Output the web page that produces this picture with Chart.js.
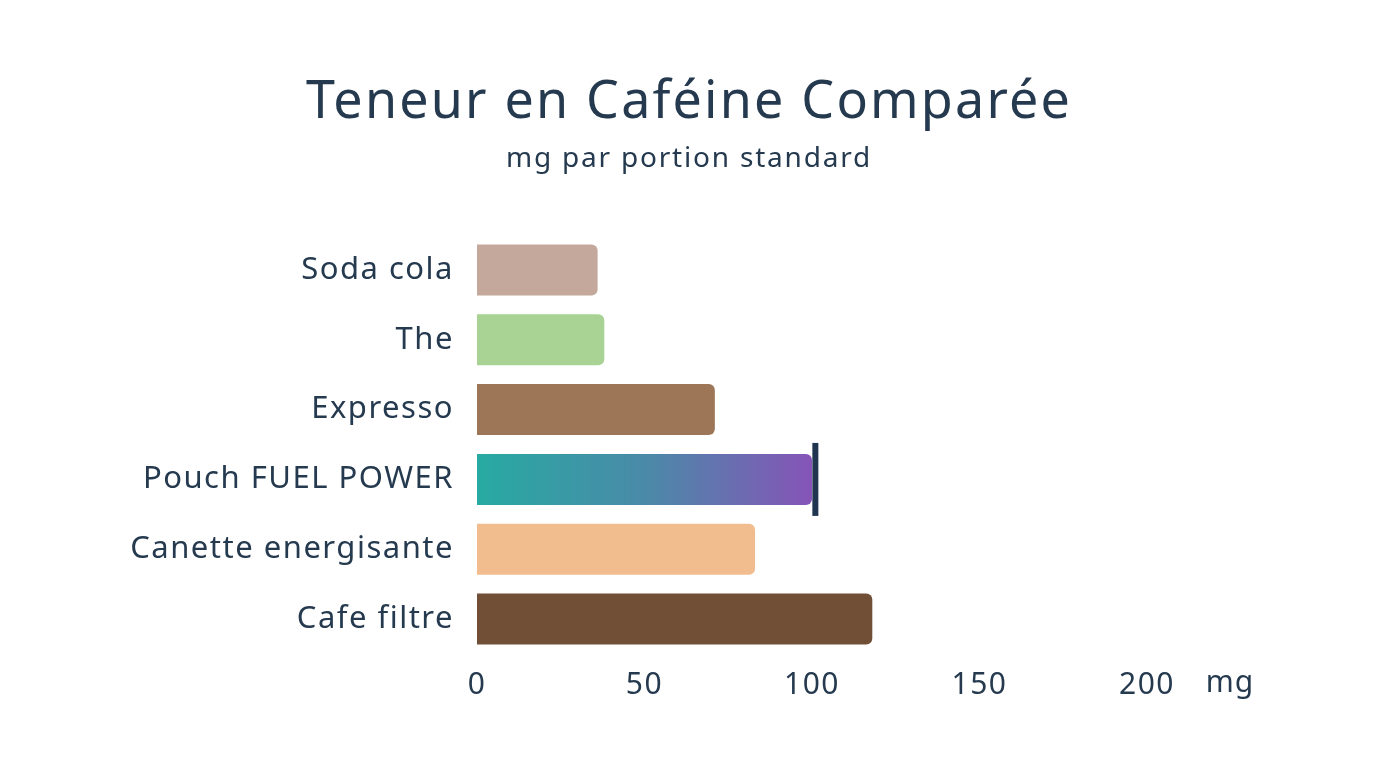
<!DOCTYPE html>
<html>
<head>
<meta charset="utf-8">
<script src="https://cdn.jsdelivr.net/npm/chart.js@4"></script>
<style>
  html, body { margin: 0; padding: 0; background: #ffffff; }
  #wrap { width: 1376px; height: 768px; }
</style>
</head>
<body>
<div id="wrap"><canvas id="cafChart"></canvas></div>
<script>
// donnees
const boissons = ['Soda cola', 'The', 'Expresso', 'Pouch FUEL POWER', 'Canette energisante', 'Cafe filtre'];
const cafeineMg = [36, 38, 71, 100, 83, 118];
const couleurs = ['#c4a89b', '#a8d395', '#9c7656', null, '#f1bd8f', '#714f37'];
const ticksX = [0, 50, 100, 150, 200];
const uniteX = 'mg';
const indexPouch = 3;
const marqueurPouch = 101;
const titre = 'Teneur en Caféine Comparée';
const sousTitre = 'mg par portion standard';

const texte = '#253a4f';
const police = "'Noto Sans', 'Open Sans', sans-serif";

// degrade teal -> violet pour la barre pouch
function couleurBarre(context) {
    const i = context.dataIndex;
    if (i !== indexPouch) return couleurs[i];
    const chart = context.chart;
    if (!chart.chartArea) return '#4f8fb0';
    const xs = chart.scales.x;
    const g = chart.ctx.createLinearGradient(xs.getPixelForValue(0), 0, xs.getPixelForValue(cafeineMg[i]), 0);
    g.addColorStop(0, '#27aaa2');
    g.addColorStop(0.5, '#4a8aa8');
    g.addColorStop(1, '#8654b8');
    return g;
}

// titres, trait vertical et unite "mg"
const extras = {
    id: 'extras',
    beforeDraw(chart) {
        chart.ctx.letterSpacing = '1.5px';
    },
    afterDatasetsDraw(chart) {
        const ctx = chart.ctx;
        const xs = chart.scales.x;
        const bar = chart.getDatasetMeta(0).data[indexPouch];
        const x = xs.getPixelForValue(marqueurPouch);
        const h = bar.height;
        ctx.save();
        ctx.fillStyle = '#1f3550';
        ctx.fillRect(x - 3, bar.y - h / 2 - 11, 6, h + 22);
        ctx.restore();
    },
    afterDraw(chart) {
        const ctx = chart.ctx;
        const xs = chart.scales.x;
        const cx = chart.width / 2;
        ctx.save();
        ctx.fillStyle = texte;
        ctx.textAlign = 'center';
        ctx.textBaseline = 'alphabetic';
        ctx.letterSpacing = '2.2px';
        ctx.font = '52px ' + police;
        ctx.fillText(titre, cx + 1, 118);
        ctx.letterSpacing = '1.8px';
        ctx.font = '28px ' + police;
        ctx.fillText(sousTitre, cx + 1, 167);
        ctx.letterSpacing = '1px';
        ctx.font = '30px ' + police;
        ctx.fillText(uniteX, xs.getPixelForValue(200) + 83, 692);
        ctx.restore();
    }
};

new Chart(document.getElementById('cafChart'), {
    type: 'bar',
    data: {
        labels: boissons,
        datasets: [{
            data: cafeineMg,
            backgroundColor: couleurBarre,
            borderWidth: 0,
            borderRadius: { topRight: 6, bottomRight: 6, topLeft: 0, bottomLeft: 0 },
            borderSkipped: 'start',
            barPercentage: 0.73,
            categoryPercentage: 1
        }]
    },
    options: {
        indexAxis: 'y',
        responsive: true,
        maintainAspectRatio: false,
        animation: false,
        layout: { padding: { left: 0, right: 229, top: 235, bottom: 0 } },
        plugins: {
            legend: { display: false },
            tooltip: { enabled: false },
            title: { display: false }
        },
        scales: {
            x: {
                min: 0,
                max: 200,
                grid: { display: false, drawTicks: false },
                border: { display: false },
                afterBuildTicks(axis) {
                    axis.ticks = ticksX.map(v => ({ value: v }));
                },
                afterFit(axis) { axis.height = 114; },
                ticks: {
                    color: texte,
                    padding: 13,
                    font: { family: police, size: 30 }
                }
            },
            y: {
                grid: { display: false, drawTicks: false },
                border: { display: false },
                afterFit(axis) { axis.width = 477; },
                ticks: {
                    color: texte,
                    padding: 23,
                    font: { family: police, size: 31 }
                }
            }
        }
    },
    plugins: [extras]
});
</script>
</body>
</html>
